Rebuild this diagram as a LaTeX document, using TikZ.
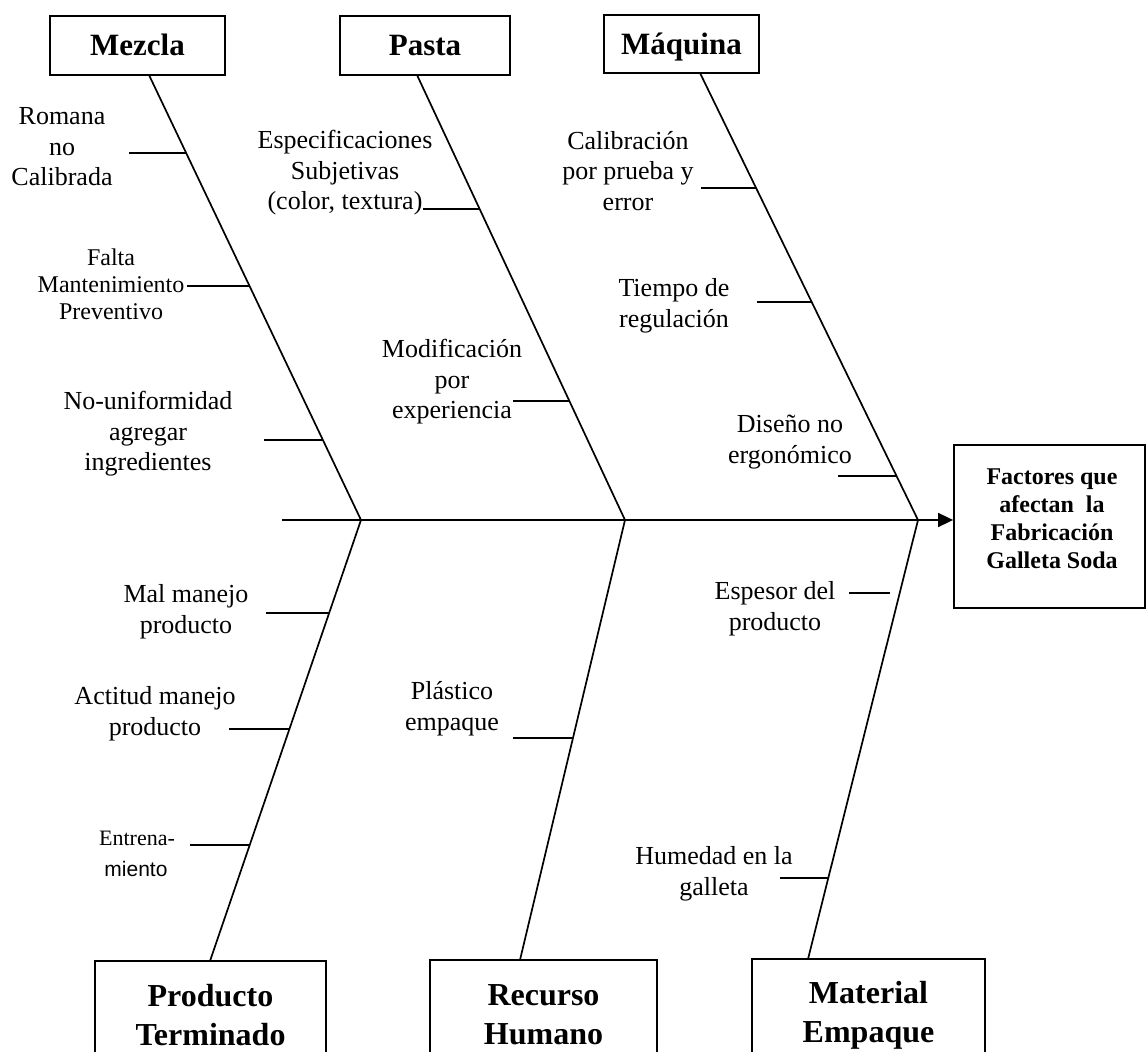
\documentclass[tikz,border=0pt]{standalone}
\usepackage{fontspec}
\setmainfont{Liberation Serif}
\newfontfamily\sansf{Liberation Sans}
\usetikzlibrary{arrows.meta}
\begin{document}
\begin{tikzpicture}[x=0.5pt,y=-0.5pt,
  lbl/.style={align=center, font=\fontsize{13}{15.3}\selectfont, inner sep=0pt},
  lblsm/.style={align=center, font=\fontsize{12}{13.6}\selectfont, inner sep=0pt},
  topbox/.style={draw, line width=0.9pt, font=\fontsize{15.5}{18}\selectfont\bfseries, inner sep=0pt, text height=12pt, text depth=1.5pt},
  botbox/.style={draw, line width=0.9pt, align=center, font=\fontsize{16}{19.5}\selectfont\bfseries, inner sep=0pt},
  bone/.style={line width=0.85pt},
  spine/.style={line width=0.85pt, -{Triangle[length=7.5pt,width=7pt]}},
  tick/.style={line width=0.75pt}]
\useasboundingbox (0,0) rectangle (1146,1052);
\clip (0,0) rectangle (1146,1052);

% category boxes (top)
\node[topbox, minimum width=87.5pt, minimum height=29.5pt] (mez) at (137.5,45.5) {Mezcla};
\node[topbox, minimum width=85pt, minimum height=29.5pt] (pas) at (425,45.5) {Pasta};
\node[topbox, minimum width=77.5pt, minimum height=29pt] (maq) at (681.5,44) {Máquina};

% effect box
\node[draw, line width=0.9pt, minimum width=95.5pt, minimum height=81.5pt, inner sep=0pt] (goal) at (1049.5,526.5) {};
\node[align=center, font=\fontsize{12}{14}\selectfont\bfseries, inner sep=0pt] (goaltxt) at (1052,519) {Factores que\\afectan\ \ la\\Fabricación\\Galleta Soda};

% category boxes (bottom)
\node[botbox, minimum width=115.5pt, minimum height=54.5pt] (pro) at (210.5,1015.5) {Producto\\Terminado};
\node[botbox, minimum width=113.5pt, minimum height=55pt] (rec) at (543.5,1015) {Recurso\\Humano};
\node[botbox, minimum width=116.5pt, minimum height=56pt] (mat) at (868.5,1015) {Material\\Empaque};

% bone coordinates
\coordinate (s0) at (282,520);
\coordinate (j1) at (361,520);
\coordinate (j2) at (625,520);
\coordinate (j3) at (918,520);
\coordinate (m1) at (149,75);
\coordinate (p1) at (417,75);
\coordinate (q1) at (700,73);
\coordinate (r1) at (210,961);
\coordinate (h1) at (520,960);
\coordinate (e1) at (808,959);

% bones and spine
\draw[bone] (m1) -- (j1) -- (r1);
\draw[bone] (p1) -- (j2) -- (h1);
\draw[bone] (q1) -- (j3) -- (e1);
\draw[spine] (s0) -- (goal.west |- s0);

% tick coordinates
\coordinate (t1a) at (129,153);   \coordinate (t1b) at (186,153);
\coordinate (t2a) at (187,286);   \coordinate (t2b) at (249.5,286);
\coordinate (t3a) at (264,440);   \coordinate (t3b) at (323,440);
\coordinate (t4a) at (423,209);   \coordinate (t4b) at (479.5,209);
\coordinate (t5a) at (513,401);   \coordinate (t5b) at (569.5,401);
\coordinate (t6a) at (701,188);   \coordinate (t6b) at (756,188);
\coordinate (t7a) at (757,302);   \coordinate (t7b) at (811.5,302);
\coordinate (t8a) at (838,476);   \coordinate (t8b) at (896.5,476);
\coordinate (t9a) at (266,613);   \coordinate (t9b) at (329,613);
\coordinate (t10a) at (229,729);  \coordinate (t10b) at (289.5,729);
\coordinate (t11a) at (190,845);  \coordinate (t11b) at (249.5,845);
\coordinate (t12a) at (513,738);  \coordinate (t12b) at (573,738);
\coordinate (t13a) at (849,593);  \coordinate (t13b) at (890,593);
\coordinate (t14a) at (780,878);  \coordinate (t14b) at (828,878);

\foreach \i in {1,...,14} { \draw[tick] (t\i a) -- (t\i b); }

% cause labels
\node[lbl] (l1) at (62,147) {Romana\\no\\Calibrada};
\node[lblsm] (l2) at (111,284) {Falta\\Mantenimiento\\Preventivo};
\node[lbl] (l3) at (148,434) {No-uniformidad\\agregar\\ingredientes};
\node[lbl] (l4) at (345,173) {Especificaciones\\Subjetivas\\(color, textura)};
\node[lbl] (l5) at (452,382) {Modificación\\por\\experiencia};
\node[lbl] (l6) at (628,171) {Calibración\\por prueba y\\error};
\node[lbl] (l7) at (674,306) {Tiempo de\\regulación};
\node[lbl] (l8) at (790,442) {Diseño no\\ergonómico};
\node[lbl] (l9) at (186,612) {Mal manejo\\producto};
\node[lbl] (l10) at (155,714) {Actitud manejo\\producto};
\node[font=\fontsize{11}{13}\selectfont, inner sep=0pt] (l11a) at (137,838) {Entrena-};
\node[font=\sansf\fontsize{10.5}{12}\selectfont, inner sep=0pt] (l11b) at (136,869) {miento};
\node[lbl] (l12) at (452,709) {Plástico\\empaque};
\node[lbl] (l13) at (775,609) {Espesor del\\producto};
\node[lbl] (l14) at (714,874) {Humedad en la\\galleta};
\end{tikzpicture}
\end{document}
